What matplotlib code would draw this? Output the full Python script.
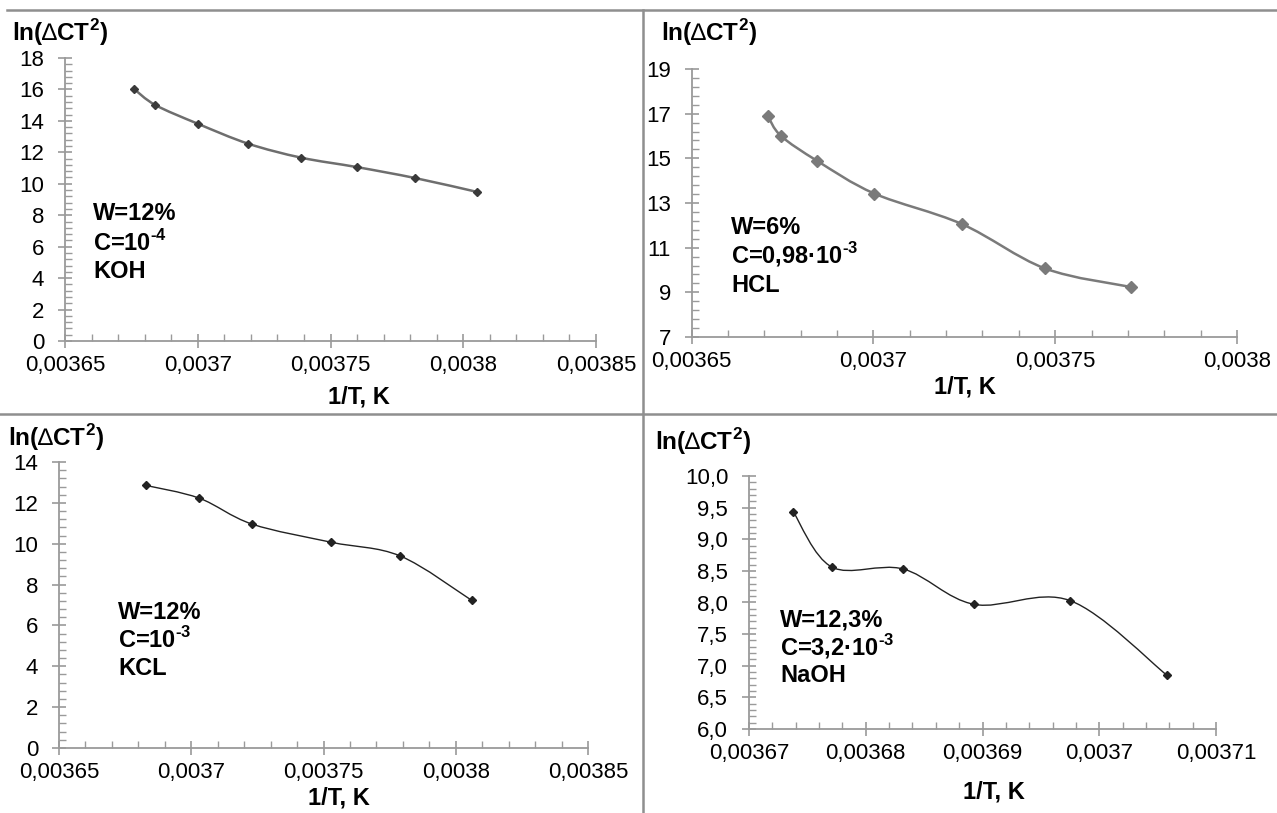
import matplotlib
matplotlib.use('Agg')
import numpy as np
import matplotlib.pyplot as plt
from matplotlib.path import Path
from matplotlib.patches import PathPatch
from matplotlib.ticker import MultipleLocator, FixedLocator, FuncFormatter
from matplotlib.lines import Line2D

plt.rcParams['font.family'] = ['Liberation Sans', 'DejaVu Sans']
plt.rcParams['mathtext.fontset'] = 'custom'
plt.rcParams['mathtext.rm'] = 'Liberation Sans'
plt.rcParams['mathtext.bf'] = 'Liberation Sans:bold'

W, H = 1277, 813

# data: 1/T and ln(dC*T^2)
koh_x = [0.003676, 0.003684, 0.003700, 0.003719, 0.003739, 0.003760, 0.003782, 0.003805]
koh_y = [16.03, 15.01, 13.82, 12.55, 11.66, 11.06, 10.36, 9.49]

hcl_x = [0.003671, 0.0036746, 0.0036846, 0.0037003, 0.0037243, 0.0037472, 0.0037708]
hcl_y = [16.88, 16.0, 14.88, 13.42, 12.06, 10.07, 9.24]

kcl_x = [0.003683, 0.003703, 0.003723, 0.003753, 0.003779, 0.003806]
kcl_y = [12.85, 12.23, 10.96, 10.07, 9.40, 7.23]

naoh_x = [0.0036738, 0.0036771, 0.0036832, 0.0036893, 0.0036975, 0.0037058]
naoh_y = [9.43, 8.56, 8.53, 7.97, 8.03, 6.85]

koh_note = ['W=12%', 'C=10$^{\\mathbf{\u2010}\\mathbf{4}}$', 'KOH']
hcl_note = ['W=6%', 'C=0,98\u00b710$^{\\mathbf{\u2010}\\mathbf{3}}$', 'HCL']
kcl_note = ['W=12%', 'C=10$^{\\mathbf{\u2010}\\mathbf{3}}$', 'KCL']
naoh_note = ['W=12,3%', 'C=3,2\u00b710$^{\\mathbf{\u2010}\\mathbf{3}}$', 'NaOH']

Y_LABEL = 'ln($\\mathrm{\u2206}$CT$^{\\mathbf{2}}$)'
X_LABEL = '1/T, K'

TICK_FS = 16
LAB_FS = 17


def smooth_path(xs, ys):
    # excel-like smoothed line: cubic bezier through the points
    n = len(xs)
    verts = [(xs[0], ys[0])]
    codes = [Path.MOVETO]
    for i in range(n - 1):
        x0, y0 = (xs[i - 1], ys[i - 1]) if i > 0 else (xs[i], ys[i])
        x3, y3 = (xs[i + 2], ys[i + 2]) if i + 2 < n else (xs[i + 1], ys[i + 1])
        c1 = (xs[i] + (xs[i + 1] - x0) / 6, ys[i] + (ys[i + 1] - y0) / 6)
        c2 = (xs[i + 1] - (x3 - xs[i]) / 6, ys[i + 1] - (y3 - ys[i]) / 6)
        verts += [c1, c2, (xs[i + 1], ys[i + 1])]
        codes += [Path.CURVE4] * 3
    return Path(verts, codes)


def fx(px):
    return px / W


def fy(py):
    return 1 - py / H


def make_axes(l, r, t, b):
    return fig.add_axes([fx(l), fy(b), fx(r - l), (b - t) / H])


def style_axes(ax, xlim, xmaj, xmin, ylim, ymaj, ymin, yfmt):
    ax.set_xlim(*xlim)
    ax.set_ylim(*ylim)
    for s in ['top', 'right']:
        ax.spines[s].set_visible(False)
    for s in ['left', 'bottom']:
        ax.spines[s].set_color('#9a9a9a')
        ax.spines[s].set_linewidth(1.3)
    ax.xaxis.set_major_locator(MultipleLocator(xmaj))
    ax.xaxis.set_minor_locator(MultipleLocator(xmin))
    # y ticks start at the bottom of the axis
    ax.yaxis.set_major_locator(FixedLocator(np.arange(ylim[0], ylim[1] + ymaj / 2, ymaj)))
    ax.yaxis.set_minor_locator(FixedLocator(np.arange(ylim[0], ylim[1] + ymin / 2, ymin)))
    ax.xaxis.set_major_formatter(FuncFormatter(lambda v, p: f'{v:.6g}'.replace('.', ',')))
    ax.yaxis.set_major_formatter(FuncFormatter(lambda v, p: yfmt.format(v).replace('.', ',')))
    ax.tick_params(which='major', direction='inout', length=10, width=1.2, color='#9a9a9a',
                   labelsize=TICK_FS)
    ax.tick_params(which='minor', direction='in', length=5, width=1, color='#9a9a9a')
    ax.tick_params(axis='x', which='major', pad=5)
    ax.tick_params(axis='y', which='major', pad=10)
    ax.patch.set_alpha(0)


def draw(ax, xs, ys, lc, lw, mc, ms):
    ax.add_patch(PathPatch(smooth_path(xs, ys), facecolor='none', edgecolor=lc, lw=lw))
    ax.plot(xs, ys, linestyle='none', marker='D', color=mc, markersize=ms)


def labels(ylab_pos, xlab_pos, note_x, note_ys, note):
    fig.text(fx(ylab_pos[0]), fy(ylab_pos[1]), Y_LABEL, fontsize=LAB_FS + 0.5,
             fontweight='bold', ha='left', va='center')
    fig.text(fx(xlab_pos[0]), fy(xlab_pos[1]), X_LABEL, fontsize=LAB_FS,
             fontweight='bold', ha='center', va='center')
    for t, y in zip(note, note_ys):
        fig.text(fx(note_x), fy(y), t, fontsize=LAB_FS, fontweight='bold', ha='left', va='center')


fig = plt.figure(figsize=(W / 100, H / 100), dpi=100)

# separators between the four panels
sep = '#8f8f8f'
fig.add_artist(Line2D([fx(7), 1], [fy(10), fy(10)], color=sep, lw=1.8))
fig.add_artist(Line2D([0, 1], [fy(414), fy(414)], color=sep, lw=1.8))
fig.add_artist(Line2D([fx(643), fx(643)], [fy(10), 0], color=sep, lw=1.8))

# KOH
ax1 = make_axes(65, 596, 58, 341)
style_axes(ax1, (0.00365, 0.00385), 0.00005, 0.00001, (0, 18), 2, 0.4, '{:.0f}')
draw(ax1, koh_x, koh_y, '#6e6e6e', 1.8, '#3a3a3a', 4)
labels((12, 33), (359, 397), 93, [213, 243, 271], koh_note)

# HCL
ax2 = make_axes(691.6, 1237, 69, 337)
style_axes(ax2, (0.00365, 0.0038), 0.00005, 0.00001, (7, 19), 2, 0.4, '{:.0f}')
draw(ax2, hcl_x, hcl_y, '#7a7a7a', 1.8, '#7a7a7a', 6)
labels((661, 33), (965, 387), 731, [227, 255, 285], hcl_note)

# KCL
ax3 = make_axes(59, 588, 462, 748)
style_axes(ax3, (0.00365, 0.00385), 0.00005, 0.00001, (0, 14), 2, 0.4, '{:.0f}')
draw(ax3, kcl_x, kcl_y, '#222222', 1.0, '#222222', 4)
labels((8, 438), (339, 798), 118, [612, 640, 668], kcl_note)

# NaOH
ax4 = make_axes(749, 1216, 476, 729)
style_axes(ax4, (0.00367, 0.00371), 0.00001, 0.000002, (6, 10), 0.5, 0.1, '{:.1f}')
draw(ax4, naoh_x, naoh_y, '#222222', 1.0, '#222222', 4)
labels((655, 442), (994, 792), 780, [620, 647, 675], naoh_note)

fig.savefig('out.png', dpi=100)
